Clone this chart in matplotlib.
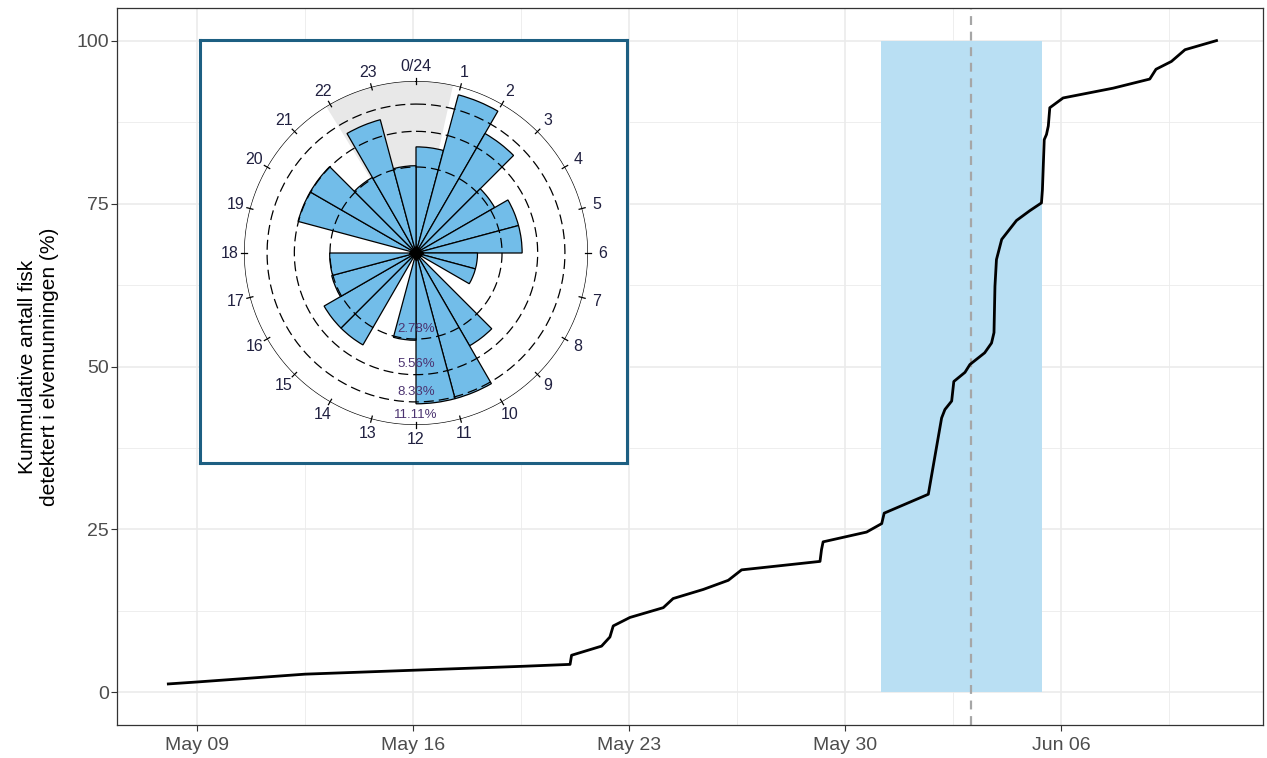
import numpy as np
import pandas as pd
import matplotlib
matplotlib.use("Agg")
import matplotlib.pyplot as plt
import matplotlib.dates as mdates

plt.rcParams['font.family'] = ['Liberation Sans', 'DejaVu Sans']

# cumulative detections in the river mouth (%)
times = ["2022-05-08 01:40", "2022-05-09 00:00", "2022-05-12 12:00", "2022-05-16 00:00",
         "2022-05-19 12:30", "2022-05-21 02:10", "2022-05-21 03:20", "2022-05-22 02:40",
         "2022-05-22 09:10", "2022-05-22 11:45", "2022-05-23 00:45", "2022-05-24 02:40",
         "2022-05-24 10:20", "2022-05-25 09:50", "2022-05-26 05:15", "2022-05-26 15:35",
         "2022-05-29 04:35", "2022-05-29 05:45", "2022-05-29 07:00", "2022-05-30 16:50",
         "2022-05-31 04:35", "2022-05-31 06:30", "2022-06-01 16:50", "2022-06-02 03:10",
         "2022-06-02 05:45", "2022-06-02 11:00", "2022-06-02 12:40", "2022-06-02 21:20",
         "2022-06-03 01:10", "2022-06-03 12:40", "2022-06-03 18:00", "2022-06-03 19:55",
         "2022-06-03 20:40", "2022-06-03 21:50", "2022-06-04 01:55", "2022-06-04 13:25",
         "2022-06-04 23:45", "2022-06-05 08:50", "2022-06-05 09:35", "2022-06-05 11:00",
         "2022-06-05 12:45", "2022-06-05 14:10", "2022-06-05 15:20", "2022-06-06 01:40",
         "2022-06-07 16:35", "2022-06-08 21:05", "2022-06-09 01:55", "2022-06-09 13:55",
         "2022-06-10 00:30", "2022-06-11 01:00"]
cum_pct = [1.3, 1.6, 2.8, 3.4, 4.0, 4.3, 5.7, 7.1, 8.5, 10.2, 11.5, 13.0,
           14.4, 15.8, 17.2, 18.8, 20.1, 21.9, 23.1, 24.6, 25.9, 27.5,
           30.4, 42.1, 43.4, 44.7, 47.7, 49.1, 50.3, 52.1, 53.6, 55.2,
           62.3, 66.4, 69.5, 72.4, 73.9, 75.1, 77.1, 84.8, 85.6, 86.9, 89.7,
           91.2, 92.7, 94.1, 95.6, 96.8, 98.6, 100.0]

shade_start = "2022-05-31 04:00"
shade_end = "2022-06-05 09:10"
event_time = "2022-06-03 02:00"

x_ticks = ["2022-05-09", "2022-05-16", "2022-05-23", "2022-05-30", "2022-06-06"]
y_ticks = [0, 25, 50, 75, 100]

# rose diagram: share of detections per hour of day (%)
hours = list(range(24))
hour_pct = [4.23, 10.07, 7.15, 3.1, 4.23, 4.23, 1.42, 1.42, 0.0, 4.31, 8.54, 8.54,
            2.86, 0.0, 4.23, 4.23, 2.86, 2.8, 0.0, 5.6, 5.6, 2.86, 7.15, 2.86]
ring_pct = [2.78, 5.56, 8.33]
ring_labels = ["2.78%", "5.56%", "8.33%", "11.11%"]
outer_pct = 11.11
night_start, night_end = 21.9, 24.83  # hours

t = pd.to_datetime(times)

fig = plt.figure(figsize=(12.67, 7.58), dpi=100)
ax = fig.add_axes([117 / 1267, 33 / 758, 1146 / 1267, 717 / 758])
ax.set_zorder(1)

ax.axvspan(pd.Timestamp(shade_start), pd.Timestamp(shade_end), ymin=5 / 110, ymax=105 / 110,
           color='#b9dff3', lw=0, zorder=1)
ax.axvline(pd.Timestamp(event_time), color='#a6a6a6', lw=1.6, ls=(0, (4, 3)), zorder=2)
ax.plot(t, cum_pct, color='black', lw=2, zorder=3)

ax.set_yticks(y_ticks)
xt = pd.to_datetime(x_ticks)
ax.set_xticks(xt)
ax.xaxis.set_major_formatter(mdates.DateFormatter('%b %d'))
minor_x = list(xt + pd.Timedelta(hours=84))
ax.set_xticks(minor_x, minor=True)
ax.set_yticks([-12.5 + 25 * i for i in range(1, 5)], minor=True)
ax.set_ylim(-5, 105)
ax.set_xlim(pd.Timestamp("2022-05-06 09:45"), pd.Timestamp("2022-06-12 13:10"))
ax.grid(which='major', color='#ebebeb', lw=1.2, zorder=0)
ax.grid(which='minor', color='#ebebeb', lw=0.6, zorder=0)
ax.set_axisbelow(True)
ax.tick_params(which='major', length=4, color='#333333', labelsize=14, labelcolor='#4d4d4d', width=0.8)
ax.tick_params(axis='y', which='major', pad=2)
ax.tick_params(axis='x', which='major', pad=5)
ax.tick_params(which='minor', length=0)
for s in ax.spines.values():
    s.set_color('#333333')
    s.set_linewidth(0.9)
ax.set_ylabel("Kummulative antall fisk\ndetektert i elvemunningen (%)", fontsize=15, labelpad=12)

# inset frame
frame = fig.add_axes([200 / 1267, (758 - 463) / 758, 427 / 1267, 423 / 758])
frame.set_zorder(2)
frame.set_facecolor('white')
frame.set_xticks([])
frame.set_yticks([])
for s in frame.spines.values():
    s.set_color('#1d5f82')
    s.set_linewidth(2.2)

# rose diagram (radius proportional to sqrt of percentage)
R = np.sqrt(outer_pct)
cx, cy, rp = 416, 253, 172
pax = fig.add_axes([(cx - rp) / 1267, (758 - cy - rp) / 758, 2 * rp / 1267, 2 * rp / 758],
                   projection='polar')
pax.set_zorder(3)
pax.patch.set_alpha(0)
pax.set_theta_zero_location('N')
pax.set_theta_direction(-1)
pax.set_ylim(0, R)
pax.grid(False)
pax.set_xticks([])
pax.set_yticks([])
pax.spines['polar'].set_visible(False)

step = 2 * np.pi / 24
pax.bar(night_start * step, R, width=(night_end - night_start) * step, align='edge',
        color='#e8e8e8', lw=0, zorder=1)
theta = np.array(hours) * step
pax.bar(theta, np.sqrt(hour_pct), width=step, align='edge', color='#72bde9',
        edgecolor='black', lw=0.9, zorder=2)

circ = np.linspace(0, 2 * np.pi, 400)
for p in ring_pct:
    pax.plot(circ, np.full_like(circ, np.sqrt(p)), color='black', lw=0.9,
             ls=(0, (8, 4)), zorder=3)
pax.plot(circ, np.full_like(circ, R), color='black', lw=0.9, zorder=3)
for th in theta:
    pax.plot([th, th], [R - 0.06, R + 0.06], color='black', lw=0.9, zorder=3, clip_on=False)
pax.plot([0], [0], marker='D', color='black', ms=7, zorder=5)

for h, th in zip(hours, theta):
    lab = "0/24" if h == 0 else str(h)
    pax.text(th, 3.62, lab, ha='center', va='center', fontsize=11.5, color='#202040')
for p, lab in zip(ring_pct + [outer_pct], ring_labels):
    pax.text(np.pi, np.sqrt(p) - 0.2, lab, ha='center', va='center', fontsize=9.5,
             color='#4b3370', zorder=4)

fig.savefig("out.png", dpi=100)
